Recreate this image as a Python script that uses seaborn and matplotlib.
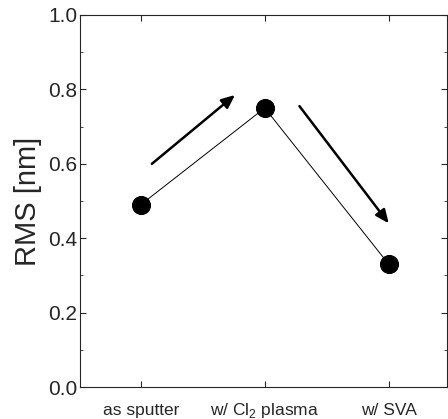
import numpy as np
import pandas as pd
import matplotlib
matplotlib.use("Agg")
import matplotlib.pyplot as plt
import seaborn as sns
from matplotlib.ticker import MultipleLocator

# ── データ ──────────────────────────────────────────────
categories = ["as sputter", "w/ Cl$_2$ plasma", "w/ SVA"]
rms_nm     = [0.49, 0.75, 0.33]

# 矢印 (data 座標): start -> end
arrow_up   = [(0.09, 0.60), (0.76, 0.785)]
arrow_down = [(1.28, 0.755), (2.0, 0.44)]

sns.set_style("ticks")
plt.rcParams['font.family'] = ['Liberation Sans', 'DejaVu Sans']
plt.rcParams['mathtext.fontset'] = 'custom'
plt.rcParams['mathtext.rm'] = 'Liberation Sans'

df = pd.DataFrame({"x": np.arange(len(categories)), "rms": rms_nm})

fig = plt.figure(figsize=(4.48, 4.19), dpi=100)
ax = fig.add_axes([80/448, 1 - 387/419, (447-80)/448, (387-15)/419])

sns.lineplot(data=df, x="x", y="rms", ax=ax, color="black", lw=0.7,
             marker="o", markersize=13, markeredgecolor="black",
             markerfacecolor="black")

for (s, e) in (arrow_up, arrow_down):
    ax.annotate("", xy=e, xytext=s,
                arrowprops=dict(arrowstyle="-|>,head_length=0.8,head_width=0.35",
                                lw=1.8, color="black", shrinkA=0, shrinkB=0))

ax.set_xlim(-0.49, 2.47)
ax.set_ylim(0, 1.0)
ax.set_xticks(range(len(categories)))
ax.set_xticklabels(categories, fontsize=12.5)
for t in ax.get_xticklabels():
    t.set_va("baseline")
ax.yaxis.set_major_locator(MultipleLocator(0.2))
ax.yaxis.set_minor_locator(MultipleLocator(0.1))
ax.yaxis.set_major_formatter(matplotlib.ticker.FormatStrFormatter("%.1f"))
ax.tick_params(axis="y", labelsize=15, pad=2)
ax.tick_params(which="both", direction="in", top=True, right=True)
ax.tick_params(which="major", length=4, width=0.8)
ax.tick_params(which="minor", length=2, width=0.6)
ax.tick_params(axis="x", pad=20)
ax.set_xlabel("")
ax.set_ylabel("RMS [nm]", fontsize=21, labelpad=4)
for sp in ax.spines.values():
    sp.set_linewidth(0.8)

plt.savefig("out.png", dpi=100)
plt.close()
